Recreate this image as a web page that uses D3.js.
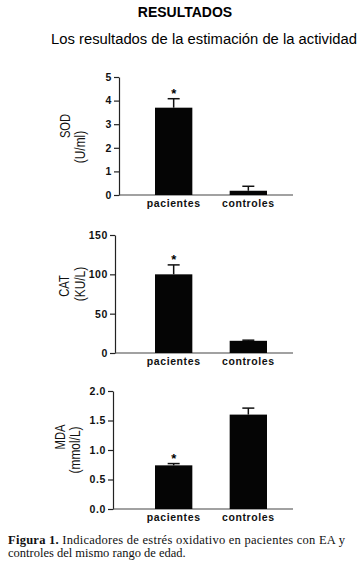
<!DOCTYPE html>
<html>
<head>
<meta charset="utf-8">
<script src="https://cdn.jsdelivr.net/npm/d3@7"></script>
<style>
  html, body { margin: 0; padding: 0; background: #fff; }
  svg { display: block; }
</style>
</head>
<body>
<svg id="chart"></svg>
<script>
// data
const categories = ['pacientes', 'controles'];

const sodMeans = [3.7, 0.18];
const sodErrors = [0.38, 0.19];
const sodTicks = [0, 1, 2, 3, 4, 5];

const catMeans = [100, 15.5];
const catErrors = [12, 0.8];
const catTicks = [0, 50, 100, 150];

const mdaMeans = [0.74, 1.6];
const mdaErrors = [0.03, 0.11];
const mdaTicks = [0, 0.5, 1.0, 1.5, 2.0];

const starred = ['pacientes'];

const width = 361, height = 565;
const svg = d3.select('#chart').attr('width', width).attr('height', height);

svg.append('rect').attr('width', width).attr('height', height).attr('fill', '#fff');

const sans = 'Liberation Sans, Arial, sans-serif';

// header texts
svg.append('text')
  .attr('x', 185).attr('y', 17)
  .attr('text-anchor', 'middle')
  .style('font-family', sans)
  .style('font-weight', 'bold')
  .style('font-size', '14px')
  .text('RESULTADOS');

svg.append('text')
  .attr('x', 51).attr('y', 44)
  .attr('textLength', 306)
  .attr('lengthAdjust', 'spacingAndGlyphs')
  .style('font-family', sans)
  .style('font-size', '14px')
  .text('Los resultados de la estimación de la actividad');

// one small bar panel
function drawPanel(opts) {
  const { top, bottom, axisX, means, errors, ticks, fmt, label, unit, labelPos, unitPos } = opts;
  const g = svg.append('g');

  const y = d3.scaleLinear()
    .domain([ticks[0], ticks[ticks.length - 1]])
    .range([bottom, top]);

  const x = d3.scaleBand()
    .domain(categories)
    .range([155, 267])
    .paddingInner(0.5)
    .paddingOuter(0);

  // y axis
  const yAxis = g.append('g')
    .attr('transform', `translate(${axisX},0)`)
    .call(d3.axisLeft(y).tickValues(ticks).tickSize(5).tickSizeOuter(0).tickPadding(2).tickFormat(fmt));
  yAxis.select('.domain').attr('stroke', '#222').attr('stroke-width', 1.2);
  yAxis.selectAll('.tick line').attr('stroke', '#222').attr('stroke-width', 1.2);
  yAxis.selectAll('.tick text')
    .attr('fill', '#111')
    .style('font-family', sans)
    .style('font-weight', 'bold')
    .style('font-size', '10.5px')
    .style('letter-spacing', '0.6px');

  // x axis baseline
  g.append('line')
    .attr('x1', axisX).attr('x2', 293)
    .attr('y1', y(0)).attr('y2', y(0))
    .attr('stroke', '#444').attr('stroke-width', 1.2);

  // category labels
  g.selectAll('.cat')
    .data(categories)
    .join('text')
    .attr('x', d => x(d) + x.bandwidth() / 2)
    .attr('y', bottom + 12)
    .attr('text-anchor', 'middle')
    .attr('fill', '#111')
    .style('font-family', sans)
    .style('font-weight', 'bold')
    .style('font-size', '10.5px')
    .style('letter-spacing', '0.6px')
    .text(d => d);

  // error bars (upper only)
  categories.forEach((c, i) => {
    const cx = x(c) + x.bandwidth() / 2;
    g.append('line')
      .attr('x1', cx).attr('x2', cx)
      .attr('y1', y(means[i])).attr('y2', y(means[i] + errors[i]))
      .attr('stroke', '#111').attr('stroke-width', 1.5);
    g.append('line')
      .attr('x1', cx - 6).attr('x2', cx + 6)
      .attr('y1', y(means[i] + errors[i])).attr('y2', y(means[i] + errors[i]))
      .attr('stroke', '#111').attr('stroke-width', 1.5);
  });

  // bars
  g.selectAll('.bar')
    .data(categories)
    .join('rect')
    .attr('x', d => x(d))
    .attr('y', (d, i) => y(means[i]))
    .attr('width', x.bandwidth())
    .attr('height', (d, i) => y(0) - y(means[i]))
    .attr('fill', '#050505');

  // significance marks
  categories.forEach((c, i) => {
    if (!starred.includes(c)) return;
    g.append('text')
      .attr('x', x(c) + x.bandwidth() / 2)
      .attr('y', y(means[i] + errors[i]) - 1)
      .attr('text-anchor', 'middle')
      .style('font-family', sans)
      .style('font-weight', 'bold')
      .style('font-size', '13px')
      .text('*');
  });

  // rotated axis title (two lines, staggered like the scan)
  g.append('text')
    .attr('transform', `translate(${labelPos[0]},${labelPos[1]}) rotate(-90) scale(0.8,1)`)
    .attr('text-anchor', 'middle')
    .attr('fill', '#111')
    .style('font-family', sans)
    .style('font-size', '14px')
    .text(label);
  g.append('text')
    .attr('transform', `translate(${unitPos[0]},${unitPos[1]}) rotate(-90) scale(0.85,1)`)
    .attr('text-anchor', 'middle')
    .attr('fill', '#111')
    .style('font-family', sans)
    .style('font-size', '14px')
    .text(unit);
}

drawPanel({ top: 77, bottom: 195, axisX: 119, means: sodMeans, errors: sodErrors,
  ticks: sodTicks, fmt: d3.format('d'), label: 'SOD', unit: '(U/ml)',
  labelPos: [70, 126], unitPos: [85, 147] });
drawPanel({ top: 235, bottom: 353, axisX: 115, means: catMeans, errors: catErrors,
  ticks: catTicks, fmt: d3.format('d'), label: 'CAT', unit: '(KU/L)',
  labelPos: [69, 286], unitPos: [85, 284] });
drawPanel({ top: 391, bottom: 509, axisX: 113, means: mdaMeans, errors: mdaErrors,
  ticks: mdaTicks, fmt: d3.format('.1f'), label: 'MDA', unit: '(mmol/L)',
  labelPos: [65, 437], unitPos: [80, 450] });

// caption
const cap = svg.append('text')
  .style('font-family', 'Liberation Serif, Times New Roman, serif')
  .style('font-size', '12.5px')
  .attr('fill', '#111');
const l1 = cap.append('tspan').attr('x', 8).attr('y', 544)
  .attr('textLength', 337).attr('lengthAdjust', 'spacing');
l1.append('tspan').style('font-weight', 'bold').text('Figura 1.');
l1.append('tspan').text(' Indicadores de estrés oxidativo en pacientes con EA y');
cap.append('tspan').attr('x', 8).attr('y', 557).text('controles del mismo rango de edad.');
</script>
</body>
</html>
